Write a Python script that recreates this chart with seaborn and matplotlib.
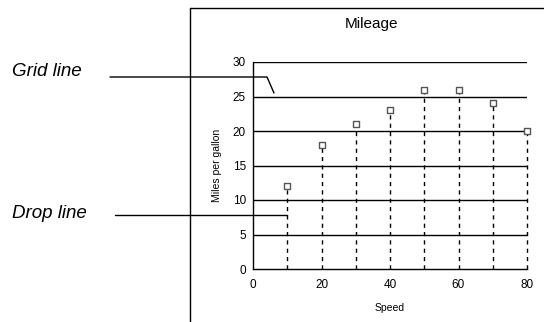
import matplotlib
matplotlib.use("Agg")
import matplotlib.pyplot as plt
import seaborn as sns
import pandas as pd
from matplotlib.lines import Line2D

speed = [10, 20, 30, 40, 50, 60, 70, 80]
mpg = [12, 18, 21, 23, 26, 26, 24, 20]
y_ticks = [0, 5, 10, 15, 20, 25, 30]
x_ticks = [0, 20, 40, 60, 80]

df = pd.DataFrame({"Speed": speed, "Miles per gallon": mpg})

sns.set_style("white")
plt.rcParams["font.family"] = ["Liberation Sans", "DejaVu Sans"]
plt.rcParams["text.color"] = "black"
plt.rcParams["axes.labelcolor"] = "black"

W, H = 544, 322
fig = plt.figure(figsize=(W / 100, H / 100), dpi=100)
ax = fig.add_axes([253 / W, 1 - 269 / H, (527 - 253) / W, (269 - 62) / H])

# grid lines
for t in y_ticks[1:]:
    ax.axhline(t, color="black", lw=1, zorder=1)

# drop lines
ax.vlines(df["Speed"], 0, df["Miles per gallon"], colors="black",
          linestyles=(0, (3, 3)), lw=1, zorder=2, clip_on=False)

sns.scatterplot(data=df, x="Speed", y="Miles per gallon", marker="s", s=14,
                facecolor="white", edgecolor="#555555", linewidth=1,
                ax=ax, zorder=3, clip_on=False)

ax.set_xlim(0, 80)
ax.set_ylim(0, 30)
ax.set_xticks(x_ticks)
ax.set_yticks(y_ticks)
ax.tick_params(axis="both", direction="out", length=4, width=1, colors="black",
               labelsize=8.5, pad=1)
ax.tick_params(axis="x", pad=3)
for s in ["top", "right"]:
    ax.spines[s].set_visible(False)
for s in ["left", "bottom"]:
    ax.spines[s].set_color("black")
    ax.spines[s].set_linewidth(1)
ax.set_xlabel("Speed", fontsize=7.5, labelpad=9)
ax.set_ylabel("Miles per gallon", fontsize=7.5, labelpad=8)

# frame and title
fig.add_artist(Line2D([190 / W, 190 / W], [0, 1 - 8 / H], color="black", lw=1))
fig.add_artist(Line2D([190 / W, 1], [1 - 8 / H, 1 - 8 / H], color="black", lw=1))
fig.text(372 / W, 1 - 24 / H, "Mileage", ha="center", va="center", fontsize=11)

# callouts
fig.text(12 / W, 1 - 72 / H, "Grid line", ha="left", va="center", fontsize=13.5,
         style="italic")
fig.add_artist(Line2D([110 / W, 267 / W, 274 / W],
                      [1 - 77 / H, 1 - 77 / H, 1 - 93 / H], color="black", lw=1))
fig.text(12 / W, 1 - 214 / H, "Drop line", ha="left", va="center", fontsize=13.5,
         style="italic")
fig.add_artist(Line2D([115 / W, 287 / W], [1 - 215 / H, 1 - 215 / H],
                      color="black", lw=1))

fig.savefig("out.png", dpi=100)
